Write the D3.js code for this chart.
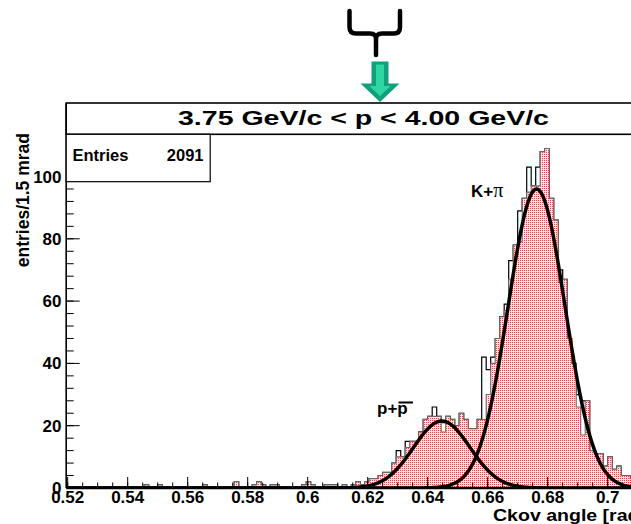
<!DOCTYPE html>
<html><head><meta charset="utf-8">
<script src="https://cdn.jsdelivr.net/npm/d3@7"></script>
<style>
html,body{margin:0;padding:0;background:#fff;overflow:hidden}
svg{display:block;font-family:"Liberation Sans",Arial,sans-serif}
</style></head>
<body>
<svg id="c" width="631" height="524"></svg>
<script>
// ---- data ----
const binStart = 0.52, binWidth = 0.0015;
// outline histogram (all entries)
const countsAll = [
 0,0,0,0,0,0,0,0,0,0,
 0,0,0,0,0,0,0,1,0,0,
 1,0,0,0,0,0,0,0,0,0,
 1,0,0,0,0,0,0,2,0,0,
 0,1,2,1,0,1,1,0,0,0,
 0,0,1,2,1,0,0,1,1,1,
 0,1,0,1,2,1,2,3,3,4,
 5,5,8,12,10,15,15,15,18,22,
 23,26,23,21,23,22,20,24,22,19,
 19,22,42,38,42,48,55,59,73,78,
 89,93,103,97,103,108,109,93,86,70,
 67,48,40,30,28,28,12,11,11,7,
 10,6,7,4,4,3,2
];
// filled histogram
const countsFilled = [
 0,0,0,0,0,0,0,0,0,0,
 0,0,0,0,0,0,0,1,0,0,
 1,0,0,0,0,0,0,0,0,0,
 1,0,0,0,0,0,0,2,0,0,
 0,1,2,1,0,1,1,0,0,0,
 0,0,1,2,1,0,0,1,1,1,
 0,1,0,1,2,1,2,3,3,4,
 5,5,8,10,10,13,15,15,18,22,
 23,23,23,18,23,22,20,24,22,19,
 19,22,22,30,40,48,55,57,67,78,
 79,93,95,97,97,108,109,93,86,66,
 67,48,40,26,17,28,12,11,11,7,
 10,6,7,4,4,3,2
];
// Gaussian fit parameters [amplitude, mean, sigma]
const fitProton = [21.5, 0.6447, 0.0094];
const fitKaonPion = [96, 0.6763, 0.0095];
const xTicks = [0.52,0.54,0.56,0.58,0.6,0.62,0.64,0.66,0.68,0.7];
const xTickLabels = ["0.52","0.54","0.56","0.58","0.6","0.62","0.64","0.66","0.68","0.7"];
const yTicks = [0,20,40,60,80,100];
const titleText = "3.75 GeV/c < p < 4.00 GeV/c";
const entries = 2091;

// ---- layout ----
const svg = d3.select("#c");
const X0 = 67.7, Y0 = 488, YT = 103;
const x = d3.scaleLinear().domain([0.52, 0.72]).range([X0, X0 + 600]);
const y = d3.scaleLinear().domain([0, 123.6]).range([Y0, YT]);

const defs = svg.append("defs");
const pat = defs.append("pattern").attr("id","dots").attr("patternUnits","userSpaceOnUse")
  .attr("width",2).attr("height",2);
pat.append("rect").attr("width",2).attr("height",2).attr("fill","#ffe4e4");
pat.append("rect").attr("width",1).attr("height",1).attr("fill","#ff3c3c");
defs.append("clipPath").attr("id","plot").append("rect")
  .attr("x",X0).attr("y",YT).attr("width",700).attr("height",Y0-YT);

// decoration: brace and arrow
svg.append("path")
  .attr("d","M349.5,11 V27 Q349.5,33.5 356,33.5 H370 Q376,33.5 376,39 V55 M376,39 Q376,33.5 382,33.5 H394 Q400,33.5 400,27 V11")
  .attr("fill","none").attr("stroke","#000").attr("stroke-width",4.5).attr("stroke-linecap","round");
svg.append("polygon").attr("points","371.5,61.5 388.5,61.5 388.5,83.5 399.5,83.5 380,102 360.5,83.5 371.5,83.5")
  .attr("fill","#10a07b");
svg.append("polygon").attr("points","376,64.5 384,64.5 384,86 390.5,86 380,96 369.5,86 376,86")
  .attr("fill","#2ed6a2");

// histogram helpers
function stepPts(counts){
  const pts = counts.map((c,i)=>[binStart + i*binWidth, c]);
  pts.push([binStart + counts.length*binWidth, counts[counts.length-1]]);
  return pts;
}
const g = svg.append("g").attr("clip-path","url(#plot)");
const line = d3.line().curve(d3.curveStepAfter).x(d=>x(d[0])).y(d=>y(d[1]));
const area = d3.area().curve(d3.curveStepAfter).x(d=>x(d[0])).y0(y(0)).y1(d=>y(d[1]));

g.append("path").attr("d", line(stepPts(countsAll))).attr("fill","none")
  .attr("stroke","#000").attr("stroke-width",1.2);
g.append("path").attr("d", area(stepPts(countsFilled))).attr("fill","url(#dots)");
g.append("path").attr("d", line(stepPts(countsFilled))).attr("fill","none")
  .attr("stroke","#6a6a6a").attr("stroke-width",1.1);

// fits
function gauss(p){
  const pts=[];
  for(let v=0.52; v<=0.72; v+=0.0004) pts.push([v, p[0]*Math.exp(-0.5*Math.pow((v-p[1])/p[2],2))]);
  return pts;
}
const fl = d3.line().x(d=>x(d[0])).y(d=>y(d[1]));
[fitProton, fitKaonPion].forEach(p=>{
  g.append("path").attr("d", fl(gauss(p))).attr("fill","none")
   .attr("stroke","#000").attr("stroke-width",3.5).attr("stroke-linejoin","round");
});

// axes ticks (ROOT style, inside)
const ax = svg.append("g");
const xMinor = d3.range(0.52, 0.7201, 0.005);
xMinor.forEach(v=>{
  ax.append("line").attr("x1",x(v)).attr("x2",x(v)).attr("y1",Y0).attr("y2",Y0-5.5)
    .attr("stroke","#000").attr("stroke-width",1);
});
xTicks.forEach(v=>{
  ax.append("line").attr("x1",x(v)).attr("x2",x(v)).attr("y1",Y0).attr("y2",Y0-11)
    .attr("stroke","#000").attr("stroke-width",1);
});
const yMinor = d3.range(0, 124, 4);
yMinor.forEach(v=>{
  ax.append("line").attr("x1",X0-1).attr("x2",X0+6).attr("y1",y(v)).attr("y2",y(v))
    .attr("stroke","#000").attr("stroke-width",1);
});
yTicks.forEach(v=>{
  ax.append("line").attr("x1",X0-1).attr("x2",X0+12).attr("y1",y(v)).attr("y2",y(v))
    .attr("stroke","#000").attr("stroke-width",1);
});
ax.append("line").attr("x1",X0-1.5).attr("x2",631).attr("y1",Y0).attr("y2",Y0)
  .attr("stroke","#000").attr("stroke-width",2.6);
ax.append("line").attr("x1",X0-1.5).attr("x2",X0-1.5).attr("y1",YT).attr("y2",Y0)
  .attr("stroke","#000").attr("stroke-width",1.6);

// tick labels
xTicks.forEach((v,i)=>{
  svg.append("text").attr("x",x(v)).attr("y",503).attr("text-anchor","middle")
    .attr("font-size",17).attr("font-weight","bold").text(xTickLabels[i]);
});
yTicks.forEach(v=>{
  svg.append("text").attr("x",61.5).attr("y",y(v)+6).attr("text-anchor","end")
    .attr("font-size",17).attr("font-weight","bold").text(v);
});

// axis titles
svg.append("text").attr("x",493).attr("y",521).attr("font-size",17).attr("font-weight","bold")
  .attr("textLength",153).attr("lengthAdjust","spacingAndGlyphs").text("Ckov angle [rad]");
svg.append("text").attr("transform","translate(28.5,133) rotate(-90)").attr("text-anchor","end")
  .attr("font-size",17.5).attr("font-weight","bold").text("entries/1.5 mrad");

// title box
svg.append("rect").attr("x",X0-1.5).attr("y",YT).attr("width",700).attr("height",31.3)
  .attr("fill","#fff").attr("stroke","#000").attr("stroke-width",1.6);
svg.append("text").attr("x",178).attr("y",124.5).attr("font-size",21).attr("font-weight","bold")
  .attr("textLength",371).attr("lengthAdjust","spacingAndGlyphs").text(titleText);

// stats box
svg.append("rect").attr("x",X0-1.5).attr("y",134.3).attr("width",144).attr("height",47.4)
  .attr("fill","#fff").attr("stroke","#000").attr("stroke-width",1.2);
svg.append("text").attr("x",72.5).attr("y",160.5).attr("font-size",16.5).attr("font-weight","bold").text("Entries");
svg.append("text").attr("x",203.5).attr("y",160.5).attr("text-anchor","end").attr("font-size",16.5).attr("font-weight","bold").text(entries);

// peak labels
const kl = svg.append("text").attr("x",471).attr("y",197).attr("font-size",17).attr("font-weight","bold");
kl.append("tspan").text("K+");
kl.append("tspan").attr("font-weight","normal").attr("font-family","Liberation Serif").attr("font-size",20).text("π");
svg.append("text").attr("x",377).attr("y",413.5).attr("font-size",17).attr("font-weight","bold").text("p+p");
svg.append("line").attr("x1",398.5).attr("x2",413).attr("y1",402.5).attr("y2",402.5)
  .attr("stroke","#000").attr("stroke-width",2);
</script>
</body></html>
